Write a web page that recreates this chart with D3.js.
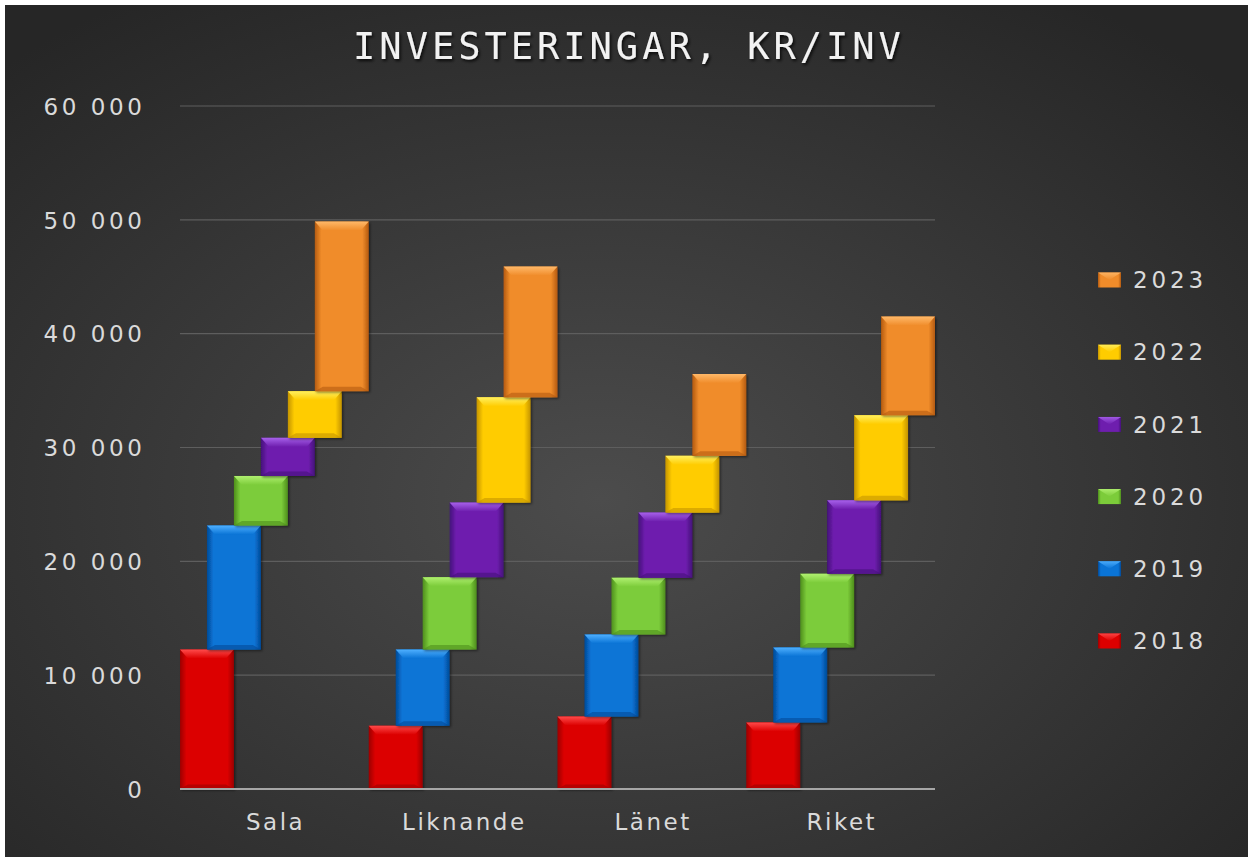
<!DOCTYPE html>
<html><head><meta charset="utf-8">
<script src="https://cdn.jsdelivr.net/npm/d3@7/dist/d3.min.js"></script>
<style>html,body{margin:0;padding:0;background:#fff;}svg{display:block;}</style>
</head><body>
<svg id="c" width="1248" height="857"></svg>
<script>
const categories = ["Sala", "Liknande", "Länet", "Riket"];
const years = ["2018", "2019", "2020", "2021", "2022", "2023"];
// yearly values (kr/inv), drawn as a cumulative waterfall per category
const v2018 = [12250, 5560, 6370, 5850];
const v2019 = [10900, 6700, 7210, 6590];
const v2020 = [4350, 6350, 4980, 6470];
const v2021 = [3350, 6550, 5720, 6450];
const v2022 = [4100, 9250, 4990, 7480];
const v2023 = [14900, 11480, 7180, 8660];
const yTicks = [0, 10000, 20000, 30000, 40000, 50000, 60000];
const title = "INVESTERINGAR, KR/INV";

const seriesValues = [v2018, v2019, v2020, v2021, v2022, v2023];
const palette = [
  {main:"#dc0000", light:"#ff4a4a", dark:"#9c0000"},
  {main:"#0a74d6", light:"#4fb0ff", dark:"#034a98"},
  {main:"#7ccc3a", light:"#b0f070", dark:"#4e8e1c"},
  {main:"#6e1eae", light:"#a660ea", dark:"#44107a"},
  {main:"#ffcc00", light:"#fff060", dark:"#c49400"},
  {main:"#f08c2a", light:"#ffb868", dark:"#b45a10"}
];

const svg = d3.select("#c");
const defs = svg.append("defs");
const bg = defs.append("radialGradient").attr("id","bg").attr("cx","48%").attr("cy","58%").attr("r","70%");
bg.append("stop").attr("offset","0%").attr("stop-color","#4c4c4c");
bg.append("stop").attr("offset","100%").attr("stop-color","#262626");
const sh = defs.append("filter").attr("id","tsh").attr("x","-10%").attr("y","-30%").attr("width","120%").attr("height","160%");
sh.append("feDropShadow").attr("dx",1.5).attr("dy",2).attr("stdDeviation",1.5).attr("flood-color","#000").attr("flood-opacity",0.8);
const bs = defs.append("filter").attr("id","bsh").attr("x","-10%").attr("y","-10%").attr("width","130%").attr("height","130%");
bs.append("feDropShadow").attr("dx",1.5).attr("dy",1.5).attr("stdDeviation",1.2).attr("flood-color","#000").attr("flood-opacity",0.45);

palette.forEach((p,i)=>{
  const g = defs.append("linearGradient").attr("id","h"+i).attr("x1","0").attr("x2","1").attr("y1","0").attr("y2","0");
  g.append("stop").attr("offset","0%").attr("stop-color",p.dark);
  g.append("stop").attr("offset","12%").attr("stop-color",p.main);
  g.append("stop").attr("offset","88%").attr("stop-color",p.main);
  g.append("stop").attr("offset","100%").attr("stop-color",p.dark);
  const t = defs.append("linearGradient").attr("id","t"+i).attr("x1","0").attr("x2","0").attr("y1","0").attr("y2","1");
  t.append("stop").attr("offset","0%").attr("stop-color",p.light);
  t.append("stop").attr("offset","100%").attr("stop-color",p.main);
});

svg.append("rect").attr("x",5).attr("y",5).attr("width",1243).attr("height",852).attr("fill","url(#bg)");

const x = d3.scaleBand().domain(categories).range([180, 935]).padding(0);
const y = d3.scaleLinear().domain([0, 60000]).range([789, 106]);
const fmt = d3.formatLocale({decimal:",", thousands:"\u00a0", grouping:[3], currency:["","kr"]}).format(",d");
const labelFont = "DejaVu Sans, sans-serif";

// gridlines
svg.append("g").selectAll("line").data(yTicks.filter(d=>d>0)).join("line")
  .attr("x1",180).attr("x2",935).attr("y1",d=>y(d)).attr("y2",d=>y(d))
  .attr("stroke","#5e5e5e").attr("stroke-width",1.2);

// y axis labels
const yAxis = d3.axisLeft(y).tickValues(yTicks).tickFormat(fmt).tickSize(0).tickPadding(0);
const ya = svg.append("g").attr("transform","translate(145.5,0)").call(yAxis);
ya.select(".domain").remove();
ya.selectAll("text").attr("fill","#dadada").attr("font-family",labelFont).attr("font-size",23)
  .attr("letter-spacing",3.6).attr("dy","0.36em");

// bars
const cum = categories.map((c,ci)=>{
  let s = 0;
  return seriesValues.map(sv=>{ const b = s; s += sv[ci]; return [b, s]; });
});
const bw = x.bandwidth()/7;
const barsG = svg.append("g");
categories.forEach((c,ci)=>{
  seriesValues.forEach((sv,si)=>{
    const [b,t] = cum[ci][si];
    const x0 = x(c) + si*bw, w = 2*bw;
    const y0 = y(t), h = y(b) - y(t);
    const g = barsG.append("g");
    g.append("rect").attr("x",x0).attr("y",y0).attr("width",w).attr("height",h)
      .attr("fill","url(#h"+si+")").attr("filter","url(#bsh)");
    const bev = Math.min(9, h/3), side = Math.min(8, w/5);
    g.append("path").attr("d",`M${x0},${y0}L${x0+w},${y0}L${x0+w-side},${y0+bev}L${x0+side},${y0+bev}Z`)
      .attr("fill","url(#t"+si+")");
    g.append("path").attr("d",`M${x0},${y0+h}L${x0+w},${y0+h}L${x0+w-side},${y0+h-bev*0.5}L${x0+side},${y0+h-bev*0.5}Z`)
      .attr("fill",palette[si].dark).attr("opacity",0.6);
  });
});

// baseline
svg.append("line").attr("x1",180).attr("x2",935).attr("y1",y(0)).attr("y2",y(0))
  .attr("stroke","#a6a6a6").attr("stroke-width",2);

// x axis labels
const xAxis = d3.axisBottom(x).tickSize(0).tickPadding(0);
const xa = svg.append("g").attr("transform",`translate(0,${y(0)})`).call(xAxis);
xa.select(".domain").remove();
xa.selectAll("text").attr("fill","#dadada").attr("font-family",labelFont).attr("font-size",23)
  .attr("letter-spacing",2.5).attr("x",1.2).attr("y",33).attr("dy","0.36em");

// title
svg.append("text").attr("x",629).attr("y",46).attr("text-anchor","middle").attr("dominant-baseline","central")
  .attr("fill","#f2f2f2").attr("font-family","DejaVu Sans Mono, monospace").attr("font-size",37)
  .attr("letter-spacing",4).attr("filter","url(#tsh)").text(title);

// legend
const leg = svg.append("g");
const legY = d3.scalePoint().domain(years.slice().reverse()).range([280, 641]);
years.forEach((yr,si)=>{
  const ly = legY(yr);
  leg.append("rect").attr("x",1098).attr("y",ly-7.5).attr("width",23).attr("height",15).attr("fill","url(#h"+si+")");
  leg.append("path").attr("d",`M1098,${ly-7.5}L1121,${ly-7.5}L1109.5,${ly}Z`).attr("fill","url(#t"+si+")").attr("opacity",0.9);
  leg.append("text").attr("x",1133).attr("y",ly).attr("dy","0.36em").attr("fill","#dadada")
    .attr("font-family",labelFont).attr("font-size",23).attr("letter-spacing",3.9).text(yr);
});
</script>
</body></html>
